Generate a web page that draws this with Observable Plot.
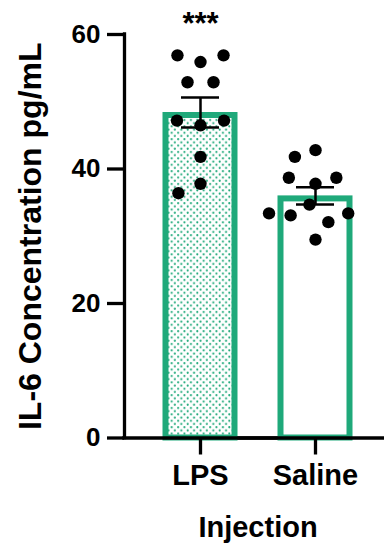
<!DOCTYPE html>
<html><head><meta charset="utf-8">
<script src="https://cdn.jsdelivr.net/npm/d3@7"></script>
<script src="https://cdn.jsdelivr.net/npm/@observablehq/plot@0.6"></script>
<style>
html,body{margin:0;padding:0;background:#fff;}
</style></head><body>
<div id="chart"></div>
<script>
// ---- data ----
const groups = ["LPS", "Saline"];
const lpsValues = [55.9, 56.9, 56.9, 52.9, 52.9, 46.5, 47.2, 47.2, 41.8, 37.8, 36.4];
const salineValues = [42.8, 41.8, 37.8, 38.7, 38.7, 34.7, 29.5, 32.1, 33.1, 33.4, 33.4];
const yTicks = [0, 20, 40, 60];
const yTitle = "IL-6 Concentration pg/mL";
const xTitle = "Injection";
const significance = ["***", ""];

// ---- tables built from the arrays ----
const seriesByGroup = {LPS: lpsValues, Saline: salineValues};
const points = groups.flatMap(g => seriesByGroup[g].map(v => ({group: g, value: v})));
const summary = groups.map((g, i) => {
  const v = seriesByGroup[g];
  const m = d3.mean(v);
  const sem = d3.deviation(v) / Math.sqrt(v.length);
  return {group: g, mean: m, lo: m - sem, hi: m + sem, sig: significance[i]};
});
const axisEdge = [{group: groups[0]}];

const xDomain = [0, 1];            // within-facet unit axis
const xMid = d3.mean(xDomain);
const xMin = d3.min(xDomain);

const green = "#1fa97a";
const font = "'Liberation Sans', Arial, Helvetica, sans-serif";

const chart = Plot.plot({
  width: 384,
  height: 544,
  marginTop: 34,
  marginBottom: 106.5,
  marginLeft: 123.5,
  marginRight: 0,
  style: {fontFamily: font, background: "white", color: "black"},
  fx: {domain: groups, range: [123.5, 392], paddingInner: -0.3247, paddingOuter: 0, label: null},
  x: {domain: xDomain, axis: null},
  y: {domain: [0, 60]},
  marks: [
    Plot.barY(summary, {filter: d => d.group === groups[0], fx: "group", y: "mean",
      fill: "url(#lpsDots)", stroke: green, strokeWidth: 6, insetLeft: 41.5, insetRight: 41.5, insetTop: 3}),
    Plot.barY(summary, {filter: d => d.group !== groups[0], fx: "group", y: "mean",
      fill: "white", stroke: green, strokeWidth: 6, insetLeft: 41.5, insetRight: 41.5, insetTop: 3}),
    Plot.ruleX(summary, {fx: "group", x: () => xMid, y1: "lo", y2: "hi", strokeWidth: 2.5, stroke: "black"}),
    Plot.ruleY(summary, {fx: "group", y: "hi", insetLeft: 57, insetRight: 57, strokeWidth: 2.5, stroke: "black"}),
    Plot.ruleY(summary, {fx: "group", y: "lo", insetLeft: 57, insetRight: 57, strokeWidth: 2.5, stroke: "black"}),
    Plot.dot(points, Plot.dodgeX({anchor: "middle", padding: 11.6},
      {filter: d => d.group === groups[0], fx: "group", y: "value", r: 6.2, fill: "black", stroke: "none"})),
    Plot.dot(points, Plot.dodgeX({anchor: "middle", padding: 9.3},
      {filter: d => d.group === groups[1], fx: "group", y: "value", r: 6.2, fill: "black", stroke: "none"})),
    Plot.text(summary, {fx: "group", text: "sig", frameAnchor: "top", lineAnchor: "bottom", dy: -1,
      fontSize: 31, fontWeight: "bold", fill: "black"}),
    Plot.ruleY([0], {strokeWidth: 3.5, stroke: "black", strokeLinecap: "square"}),
    Plot.ruleX(axisEdge, {fx: "group", x: () => xMin, strokeWidth: 3.3, stroke: "black", strokeLinecap: "square"}),
    Plot.axisY(yTicks, {tickSize: 17, tickPadding: 7, strokeWidth: 3.3, fontSize: 26, fontWeight: "bold", label: null}),
    Plot.axisY([], {label: yTitle, labelAnchor: "center", labelArrow: "none", labelOffset: 106,
      fontSize: 32, fontWeight: "bold", tickSize: 0}),
    Plot.axisFx({anchor: "bottom", tickSize: 17, tickPadding: 9, strokeWidth: 3.3, fontSize: 29, fontWeight: "bold",
      label: xTitle, labelAnchor: "center", labelArrow: "none", labelOffset: 99})
  ]
});

const svg = d3.select(chart);
const defs = svg.insert("defs", ":first-child");
const pat = defs.append("pattern").attr("id", "lpsDots").attr("patternUnits", "userSpaceOnUse")
  .attr("width", 6.4).attr("height", 6.4);
pat.append("rect").attr("width", 6.4).attr("height", 6.4).attr("fill", "white");
pat.append("circle").attr("cx", 1.6).attr("cy", 1.6).attr("r", 1.05).attr("fill", green);
pat.append("circle").attr("cx", 4.8).attr("cy", 4.8).attr("r", 1.05).attr("fill", green);

document.getElementById("chart").appendChild(chart);
</script>
</body></html>
